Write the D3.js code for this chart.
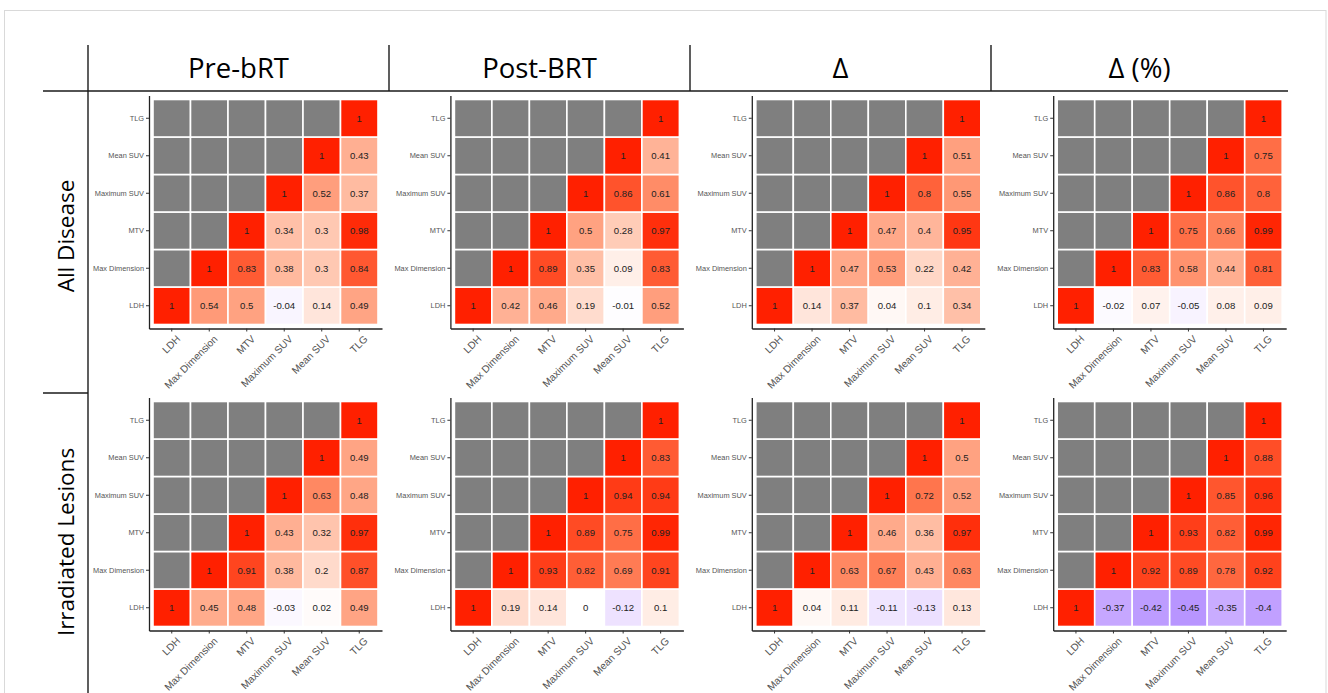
<!DOCTYPE html>
<html>
<head>
<meta charset="utf-8">
<script src="https://cdn.jsdelivr.net/npm/d3@7"></script>
<style>
body { margin: 0; background: #fff; }
</style>
</head>
<body>
<div id="chart"></div>
<script>
var vars = ["LDH", "Max Dimension", "MTV", "Maximum SUV", "Mean SUV", "TLG"];
var colTitles = ["Pre-bRT", "Post-BRT", "Δ", "Δ (%)"];
var rowTitles = ["All Disease", "Irradiated Lesions"];

// upper triangle, row by row: LDH vs the rest, Max Dimension vs the rest, ...
var preAll      = [[0.54, 0.5, -0.04, 0.14, 0.49], [0.83, 0.38, 0.3, 0.84], [0.34, 0.3, 0.98], [0.52, 0.37], [0.43]];
var postAll     = [[0.42, 0.46, 0.19, -0.01, 0.52], [0.89, 0.35, 0.09, 0.83], [0.5, 0.28, 0.97], [0.86, 0.61], [0.41]];
var deltaAll    = [[0.14, 0.37, 0.04, 0.1, 0.34], [0.47, 0.53, 0.22, 0.42], [0.47, 0.4, 0.95], [0.8, 0.55], [0.51]];
var deltaPctAll = [[-0.02, 0.07, -0.05, 0.08, 0.09], [0.83, 0.58, 0.44, 0.81], [0.75, 0.66, 0.99], [0.86, 0.8], [0.75]];

var preIrr      = [[0.45, 0.48, -0.03, 0.02, 0.49], [0.91, 0.38, 0.2, 0.87], [0.43, 0.32, 0.97], [0.63, 0.48], [0.49]];
var postIrr     = [[0.19, 0.14, 0, -0.12, 0.1], [0.93, 0.82, 0.69, 0.91], [0.89, 0.75, 0.99], [0.94, 0.94], [0.83]];
var deltaIrr    = [[0.04, 0.11, -0.11, -0.13, 0.13], [0.63, 0.67, 0.43, 0.63], [0.46, 0.36, 0.97], [0.72, 0.52], [0.5]];
var deltaPctIrr = [[-0.37, -0.42, -0.45, -0.35, -0.4], [0.92, 0.89, 0.78, 0.92], [0.93, 0.82, 0.99], [0.85, 0.96], [0.88]];

var panels = [
    [preAll, postAll, deltaAll, deltaPctAll],
    [preIrr, postIrr, deltaIrr, deltaPctIrr]
];

// turn a triangle into one cell per pair (null = grey, not shown)
var cells = function(m){
    var out = [];
    vars.forEach(function(yv, j){
        vars.forEach(function(xv, i){
            var v = i == j ? 1 : (i > j ? m[j][i - j - 1] : null);
            out.push({x: xv, y: yv, v: v});
        });
    });
    return out;
}

var color = d3.scaleLinear()
    .domain([-1, 0, 1])
    .range(["#0000ff", "#ffffff", "#ff2000"])
    .interpolate(d3.interpolateLab);

var svg = d3.select("#chart").append("svg")
    .attr("width", 1328)
    .attr("height", 693);

// outer frame
svg.append("rect")
    .attr("x", 4.5).attr("y", 10.5)
    .attr("width", 1321.5).attr("height", 700)
    .attr("fill", "none")
    .attr("stroke", "#d9d9d9");

// table lines
var line = function(x1, y1, x2, y2){
    svg.append("line")
        .attr("x1", x1).attr("y1", y1).attr("x2", x2).attr("y2", y2)
        .attr("stroke", "#1a1a1a")
        .attr("stroke-width", 1.4);
}
line(43, 91, 1288, 91);
line(88, 45, 88, 693);
line(43, 393, 88, 393);
[389, 690, 991].forEach(function(x){ line(x, 45, x, 91); });

// column headers
var headX = [238.5, 539.5, 840.5, 1139.5];
colTitles.forEach(function(t, c){
    svg.append("text")
        .attr("x", headX[c]).attr("y", 78)
        .attr("text-anchor", "middle")
        .style("font-family", "'Open Sans', sans-serif")
        .style("font-size", "27.5px")
        .attr("fill", "#000")
        .text(t);
});

// row headers
var rowY = [236, 542];
rowTitles.forEach(function(t, r){
    svg.append("text")
        .attr("transform", "translate(74," + rowY[r] + ") rotate(-90)")
        .attr("text-anchor", "middle")
        .style("font-family", "'Open Sans', sans-serif")
        .style("font-size", "22.5px")
        .attr("fill", "#000")
        .text(t);
});

// the eight heatmaps
var size = 233;
var x = d3.scaleBand().domain(vars).range([0, size]).paddingInner(0).paddingOuter(0.1067);
var y = d3.scaleBand().domain(vars.slice().reverse()).range([0, size]).paddingInner(0).paddingOuter(0.1067);

panels.forEach(function(row, r){
    row.forEach(function(m, c){
        var g = svg.append("g")
            .attr("transform", "translate(" + (149 + 301.4 * c) + "," + (95.5 + 302 * r) + ")");

        var data = cells(m);

        g.selectAll("rect")
            .data(data)
            .enter().append("rect")
            .attr("x", function(d) { return x(d.x); })
            .attr("y", function(d) { return y(d.y); })
            .attr("width", x.bandwidth())
            .attr("height", y.bandwidth())
            .attr("fill", function(d) { return d.v == null ? "#7f7f7f" : color(d.v); })
            .attr("stroke", "#fff")
            .attr("stroke-width", 1.6);

        g.selectAll("text.val")
            .data(data.filter(function(d) { return d.v != null; }))
            .enter().append("text")
            .attr("class", "val")
            .attr("x", function(d) { return x(d.x) + x.bandwidth() / 2; })
            .attr("y", function(d) { return y(d.y) + y.bandwidth() / 2; })
            .attr("dy", "0.36em")
            .attr("text-anchor", "middle")
            .style("font-family", "'Liberation Sans', Arial, sans-serif")
            .style("font-size", "9.6px")
            .attr("fill", "#222")
            .text(function(d) { return String(d.v); });

        // y axis
        var ya = g.append("g")
            .call(d3.axisLeft(y).tickSize(3).tickSizeOuter(0).tickPadding(2));
        ya.selectAll("text")
            .style("font-family", "'Liberation Sans', Arial, sans-serif")
            .style("font-size", "7.4px")
            .attr("fill", "#555");

        // x axis
        var xa = g.append("g")
            .attr("transform", "translate(0," + size + ")")
            .call(d3.axisBottom(x).tickSize(3).tickSizeOuter(0).tickPadding(2));
        xa.selectAll("text")
            .attr("x", 0).attr("y", 0)
            .attr("dy", "0.71em")
            .attr("text-anchor", "end")
            .attr("transform", "translate(4,6) rotate(-45)")
            .style("font-family", "'Liberation Sans', Arial, sans-serif")
            .style("font-size", "10.2px")
            .attr("fill", "#555");

        [ya, xa].forEach(function(a){
            a.select(".domain").attr("stroke", "#222").attr("stroke-width", 1.3);
            a.selectAll(".tick line").attr("stroke", "#333");
        });
    });
});
</script>
</body>
</html>
